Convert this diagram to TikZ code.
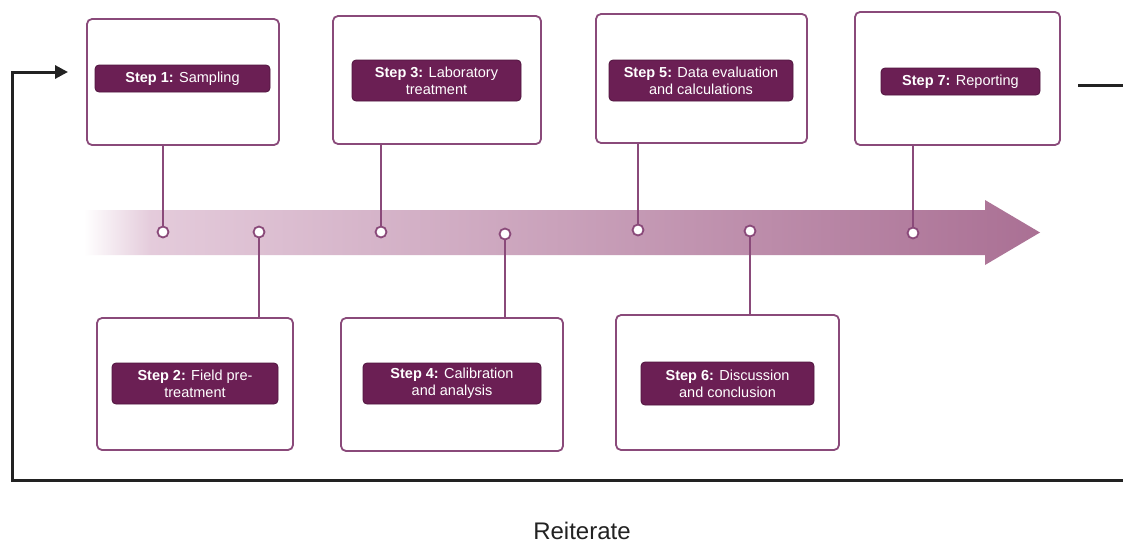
\documentclass[tikz,border=0pt]{standalone}
\usepackage{fontspec}
\setmainfont{Liberation Sans}
\usetikzlibrary{arrows.meta}
\definecolor{boxline}{RGB}{138,74,122}
\definecolor{labfill}{RGB}{107,31,84}
\definecolor{labline}{RGB}{80,20,62}
\definecolor{arrA}{RGB}{228,203,219}
\definecolor{arrB}{RGB}{170,112,148}
\definecolor{loopc}{RGB}{34,34,34}
\pgfdeclarehorizontalshading{arrowshade}{100bp}{color(0bp)=(white); color(25bp)=(white); color(28.5bp)=(arrA); color(75bp)=(arrB); color(100bp)=(arrB)}
\tikzset{
  stepbox/.style={draw=boxline, line width=1.8pt, rounded corners=5pt, fill=white, inner sep=0pt},
  steplabel/.style={draw=labline, line width=0.8pt, fill=labfill, rounded corners=4pt, inner sep=0pt,
    text=white, align=center, font=\fontsize{14.5}{17}\selectfont},
  dot/.style={circle, draw=boxline, line width=1.8pt, fill=white, minimum size=11pt, inner sep=0pt},
  conn/.style={draw=boxline, line width=1.8pt},
  loopline/.style={draw=loopc, line width=3pt},
}
\begin{document}
\begin{tikzpicture}[x=1pt,y=-1pt]
\useasboundingbox (0,0) rectangle (1123,543);
\fill[white] (0,0) rectangle (1123,543);

% big gradient arrow
\shade[shading=arrowshade] (84,210) -- (985,210) -- (985,200) -- (1040,232.5) -- (985,265) -- (985,255) -- (84,255) -- cycle;

% boxes
\node[stepbox, minimum width=192pt, minimum height=126pt] (b1) at (183,82) {};
\node[stepbox, minimum width=208pt, minimum height=128pt] (b3) at (437,80) {};
\node[stepbox, minimum width=211pt, minimum height=129pt] (b5) at (701.5,78.5) {};
\node[stepbox, minimum width=205pt, minimum height=133pt] (b7) at (957.5,78.5) {};
\node[stepbox, minimum width=196pt, minimum height=132pt] (b2) at (195,384) {};
\node[stepbox, minimum width=222pt, minimum height=133pt] (b4) at (452,384.5) {};
\node[stepbox, minimum width=223pt, minimum height=135pt] (b6) at (727.5,382.5) {};

% labels
\node[steplabel, minimum width=175pt, minimum height=27pt] (l1) at (182.5,78.5) {\textbf{Step 1:} Sampling};
\node[steplabel, minimum width=169pt, minimum height=41pt] (l3) at (436.5,80.5) {\textbf{Step 3:} Laboratory\\treatment};
\node[steplabel, minimum width=184pt, minimum height=41pt] (l5) at (701,80.5) {\textbf{Step 5:} Data evaluation\\and calculations};
\node[steplabel, minimum width=159pt, minimum height=27pt] (l7) at (960.5,81.5) {\textbf{Step 7:} Reporting};
\node[steplabel, minimum width=166pt, minimum height=41pt] (l2) at (195,383.5) {\textbf{Step 2:} Field pre-\\treatment};
\node[steplabel, minimum width=178pt, minimum height=41pt] (l4) at (452,383.5) {\textbf{Step 4:} Calibration\\and analysis};
\node[steplabel, minimum width=173pt, minimum height=43pt] (l6) at (727.5,383.5) {\textbf{Step 6:} Discussion\\and conclusion};

% dots on the arrow
\node[dot] (c1) at (163,232) {};
\node[dot] (c2) at (259,232) {};
\node[dot] (c3) at (381,232) {};
\node[dot] (c4) at (505,234) {};
\node[dot] (c5) at (638,230) {};
\node[dot] (c6) at (750,231) {};
\node[dot] (c7) at (913,233) {};

% connectors
\draw[conn] (c1 |- b1.south) -- (c1.north);
\draw[conn] (c3 |- b3.south) -- (c3.north);
\draw[conn] (c5 |- b5.south) -- (c5.north);
\draw[conn] (c7 |- b7.south) -- (c7.north);
\draw[conn] (c2.south) -- (c2 |- b2.north);
\draw[conn] (c4.south) -- (c4 |- b4.north);
\draw[conn] (c6.south) -- (c6 |- b6.north);

% reiterate loop
\coordinate (r0) at (1078,85);
\coordinate (r1) at (1123,85);
\coordinate (bR) at (1123,480);
\coordinate (bL) at (12,480);
\coordinate (tL) at (12,72);
\coordinate (a1) at (68,72);
\draw[loopline] (r0) -- (r1);
\draw[loopline, -{Triangle[length=13pt,width=13pt]}] (bR) -- (bL) -- (tL) -- (a1);

\node[font=\fontsize{24}{28}\selectfont, text=loopc] (rt) at (582,531) {Reiterate};
\end{tikzpicture}
\end{document}
